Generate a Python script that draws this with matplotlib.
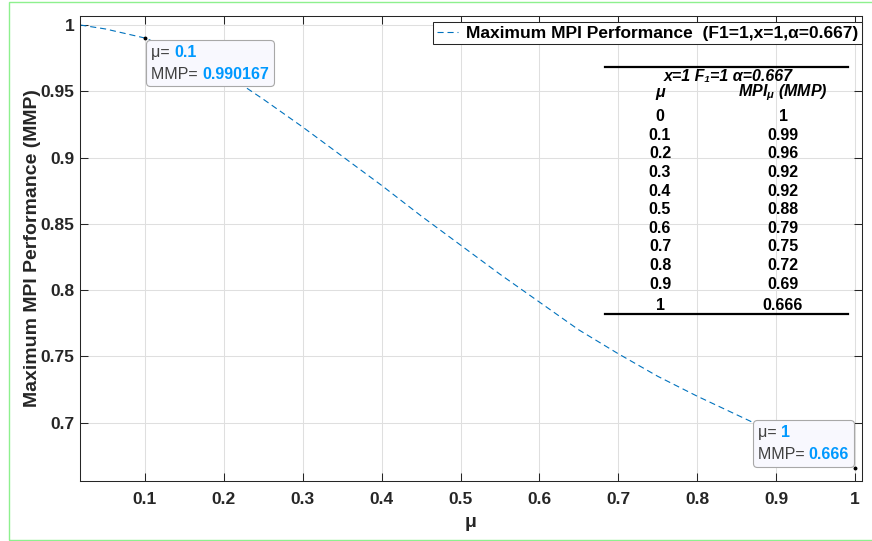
import matplotlib
matplotlib.use('Agg')
import matplotlib.pyplot as plt
from matplotlib.offsetbox import TextArea, HPacker, VPacker, AnnotationBbox
from matplotlib.patches import Rectangle
from matplotlib.ticker import FormatStrFormatter

plt.rcParams['font.family'] = ['Liberation Sans', 'DejaVu Sans']
plt.rcParams['mathtext.fontset'] = 'custom'
plt.rcParams['mathtext.it'] = 'Liberation Sans:italic:bold'
plt.rcParams['mathtext.rm'] = 'Liberation Sans:bold'

# curve
mu = [0.018, 0.05, 0.1, 0.15, 0.2, 0.25, 0.3, 0.35, 0.4, 0.45, 0.5,
      0.55, 0.6, 0.65, 0.7, 0.75, 0.8, 0.85, 0.9, 0.95, 1.0]
mmp = [1.0, 0.997, 0.990167, 0.978, 0.964, 0.944, 0.923, 0.901, 0.879, 0.856, 0.834,
       0.812, 0.791, 0.770, 0.752, 0.735, 0.720, 0.706, 0.692, 0.679, 0.666]

# table drawn inside the axes
table_mu = ['0', '0.1', '0.2', '0.3', '0.4', '0.5', '0.6', '0.7', '0.8', '0.9', '1']
table_mmp = ['1', '0.99', '0.96', '0.92', '0.92', '0.88', '0.79', '0.75', '0.72', '0.69', '0.666']

# data tips
tip_mu = [0.1, 1.0]
tip_mmp = [0.990167, 0.666]
tip_text = [('0.1', '0.990167'), ('1', '0.666')]

xticks = [0.1, 0.2, 0.3, 0.4, 0.5, 0.6, 0.7, 0.8, 0.9, 1.0]
yticks = [0.7, 0.75, 0.8, 0.85, 0.9, 0.95, 1.0]

blue = '#0072BD'
tipblue = '#0099FF'
dark = '#262626'

W, H = 872, 541
fig = plt.figure(figsize=(W / 100, H / 100), dpi=100)
# axes box in pixels: left 80, right 862, top 16, bottom 481
ax = fig.add_axes([80 / W, (H - 481) / H, 782 / W, 465 / H])

ax.plot(mu, mmp, '--', color=blue, lw=0.8, dashes=(5.5, 3.5),
        label='Maximum MPI Performance  (F1=1,x=1,\u03b1=0.667)')
ax.plot(tip_mu, tip_mmp, 'o', color='k', ms=1.8, zorder=5)

ax.set_xlim(0.0176, 1.009)
ax.set_ylim(0.656, 1.0068)
ax.set_xticks(xticks)
ax.set_yticks(yticks)
ax.xaxis.set_major_formatter(FormatStrFormatter('%g'))
ax.yaxis.set_major_formatter(FormatStrFormatter('%g'))
ax.tick_params(direction='in', length=5.5, width=0.75, top=True, right=True,
               colors=dark, labelsize=12.5)
ax.tick_params(axis='x', pad=8)
ax.tick_params(axis='y', pad=4)
for lab in ax.get_xticklabels() + ax.get_yticklabels():
    lab.set_fontweight('bold')
for s in ax.spines.values():
    s.set_color(dark)
    s.set_linewidth(0.75)
ax.grid(True, color='#DFDFDF', lw=0.75)
ax.set_axisbelow(True)

ax.set_xlabel('\u03bc', fontsize=14, fontweight='bold', color=dark, labelpad=5)
ax.set_ylabel('Maximum MPI Performance (MMP)', fontsize=14, fontweight='bold',
              color=dark, labelpad=0)

leg = ax.legend(loc='upper right', bbox_to_anchor=(1.0, (481 - 22) / 465),
                borderaxespad=0, fancybox=False, framealpha=1, edgecolor=dark,
                prop=dict(weight='bold', size=12.5), handlelength=1.2,
                borderpad=0.2, handletextpad=0.5)
leg.get_frame().set_linewidth(0.75)


def ax_x(px):
    return (px - 80) / 782


def ax_y(py):
    return (481 - py) / 465


# table rules
for py in (66.7, 314.3):
    ax.plot([ax_x(605), ax_x(848)], [ax_y(py), ax_y(py)], color='k', lw=1.6,
            transform=ax.transAxes, clip_on=False, zorder=4)

ax.text(ax_x(728), ax_y(77), 'x=1 F\u2081=1 \u03b1=0.667', transform=ax.transAxes,
        ha='center', va='center', fontsize=11.5, fontweight='bold', style='italic')
ax.text(ax_x(660), ax_y(93), '\u03bc', transform=ax.transAxes,
        ha='center', va='center', fontsize=11.5, fontweight='bold', style='italic')
ax.text(ax_x(783), ax_y(93), r'MPI$_{\mu}$ (MMP)', transform=ax.transAxes,
        ha='center', va='center', fontsize=11.5, fontweight='bold', style='italic')

for i, (m, v) in enumerate(zip(table_mu, table_mmp)):
    py = 116.7 + i * 18.6
    if i == len(table_mu) - 1:
        py += 3
    ax.text(ax_x(660), ax_y(py), m, transform=ax.transAxes, ha='center',
            va='center', fontsize=11.5, fontweight='bold')
    ax.text(ax_x(783), ax_y(py), v, transform=ax.transAxes, ha='center',
            va='center', fontsize=11.5, fontweight='bold')


def datatip(x, y, vals, align, offset):
    rows = []
    for name, val in zip(('\u03bc= ', 'MMP= '), vals):
        rows.append(HPacker(children=[
            TextArea(name, textprops=dict(color='#404040', size=11.5)),
            TextArea(val, textprops=dict(color=tipblue, size=11.5, weight='bold'))],
            sep=0, pad=0, align='baseline'))
    box = VPacker(children=rows, sep=5, pad=0, align='left')
    ab = AnnotationBbox(box, (x, y), xybox=offset, xycoords='data',
                        boxcoords='offset points', box_alignment=align,
                        bboxprops=dict(boxstyle='round,pad=0.35,rounding_size=0.3',
                                       fc='#F8F8FE', ec='#A8A8A8', lw=0.8),
                        zorder=6)
    ax.add_artist(ab)


# box padding is 0.35 * 10pt, so shift the text in by that much
datatip(tip_mu[0], tip_mmp[0], tip_text[0], (0, 1), (4.2, -4.7))
datatip(tip_mu[1], tip_mmp[1], tip_text[1], (1, 0), (-4.2, 4.2))

# light green frame of the original screenshot
fig.add_artist(Rectangle((9 / W, 1 / H), 1.2, 538 / H, transform=fig.transFigure,
                         fill=False, ec='#8EF08E', lw=1))

fig.savefig('out.png', dpi=100)
